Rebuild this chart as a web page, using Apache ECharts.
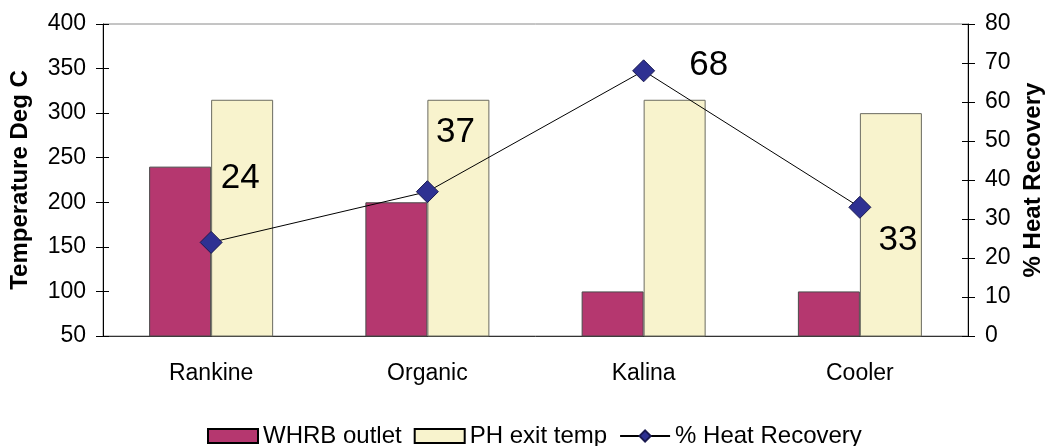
<!DOCTYPE html>
<html>
<head>
<meta charset="utf-8">
<script src="https://cdn.jsdelivr.net/npm/echarts@6/dist/echarts.min.js"></script>
<style>
  html, body { margin: 0; padding: 0; background: #fff; }
  #chart { width: 1048px; height: 446px; }
</style>
</head>
<body>
<div id="chart"></div>
<script>
// data
const categories = ["Rankine", "Organic", "Kalina", "Cooler"];
const whrbOutlet = [240, 200, 100, 100];
const phExitTemp = [315, 315, 315, 300];
const heatRecovery = [24, 37, 68, 33];

// where each value label sits relative to its marker
const labelOffsets = [[29, -64], [28, -59], [65, -5], [38, 33]];

const font = "Liberation Sans, Arial, sans-serif";
const textCol = "#000";

const chart = echarts.init(document.getElementById("chart"));

const tempAxis = {
  min: 50,
  max: 400,
  interval: 50
};
const pctAxis = {
  min: 0,
  max: 80,
  interval: 10
};

chart.setOption({
  animation: false,
  grid: {
    left: 103,
    right: 80,
    top: 24,
    bottom: 110,
    outerBoundsMode: "none",
    containLabel: false,
    show: true,
    borderColor: "#8a8a8a",
    borderWidth: 1
  },
  legend: {
    bottom: -7,
    left: 202,
    itemWidth: 50,
    itemHeight: 14,
    itemGap: 12,
    textStyle: { fontFamily: font, fontSize: 24, color: textCol },
    data: [
      { name: "WHRB outlet", icon: "rect", itemStyle: { borderColor: "#000", borderWidth: 2 } },
      { name: "PH exit temp", icon: "rect", itemStyle: { borderColor: "#000", borderWidth: 2 } },
      { name: "% Heat Recovery" }
    ]
  },
  xAxis: {
    type: "category",
    data: categories,
    axisLine: { lineStyle: { color: "#333", width: 1 } },
    axisTick: { length: 7, lineStyle: { color: "#333" } },
    axisLabel: { fontFamily: font, fontSize: 23, color: textCol, margin: 26 }
  },
  yAxis: [
    Object.assign({}, tempAxis, {
      type: "value",
      position: "left",
      name: "Temperature Deg C",
      nameLocation: "middle",
      nameGap: 71,
      nameTextStyle: { fontFamily: font, fontSize: 24, fontWeight: "bold", color: textCol },
      axisLine: { show: true, lineStyle: { color: "#000" } },
      axisTick: { show: true, length: 7, lineStyle: { color: "#000" } },
      axisLabel: { fontFamily: font, fontSize: 23, color: textCol, margin: 17 },
      splitLine: { show: false }
    }),
    Object.assign({}, pctAxis, {
      type: "value",
      position: "right",
      name: "% Heat Recovery",
      nameLocation: "middle",
      nameGap: 53,
      nameTextStyle: { fontFamily: font, fontSize: 24, fontWeight: "bold", color: textCol },
      axisLine: { show: true, lineStyle: { color: "#000" } },
      axisTick: { show: true, length: 7, lineStyle: { color: "#000" } },
      axisLabel: { fontFamily: font, fontSize: 23, color: textCol, margin: 17 },
      splitLine: { show: false }
    }),
    // inner halves of the crossing ticks
    Object.assign({}, tempAxis, {
      type: "value",
      position: "left",
      axisLine: { show: false },
      axisTick: { show: true, inside: true, length: 6, lineStyle: { color: "#000" } },
      axisLabel: { show: false },
      splitLine: { show: false }
    }),
    Object.assign({}, pctAxis, {
      type: "value",
      position: "right",
      axisLine: { show: false },
      axisTick: { show: true, inside: true, length: 6, lineStyle: { color: "#000" } },
      axisLabel: { show: false },
      splitLine: { show: false }
    })
  ],
  series: [
    {
      name: "WHRB outlet",
      type: "bar",
      yAxisIndex: 0,
      barWidth: 62,
      barGap: "0%",
      itemStyle: { color: "#b5376f", borderColor: "#4a4a4a", borderWidth: 1 },
      data: whrbOutlet
    },
    {
      name: "PH exit temp",
      type: "bar",
      yAxisIndex: 0,
      barWidth: 62,
      barGap: "0%",
      itemStyle: { color: "#f8f3cd", borderColor: "#6b6b60", borderWidth: 1 },
      data: phExitTemp
    },
    {
      name: "% Heat Recovery",
      type: "line",
      yAxisIndex: 1,
      symbol: "diamond",
      symbolSize: 22,
      lineStyle: { color: "#000", width: 1 },
      itemStyle: { color: "#2e3192", borderColor: "#1a1a50", borderWidth: 1 },
      z: 5,
      data: heatRecovery.map((v, i) => ({
        value: v,
        label: {
          show: true,
          position: "inside",
          offset: labelOffsets[i],
          formatter: "{c}",
          fontFamily: font,
          fontSize: 35,
          color: textCol
        }
      }))
    }
  ]
});
</script>
</body>
</html>
